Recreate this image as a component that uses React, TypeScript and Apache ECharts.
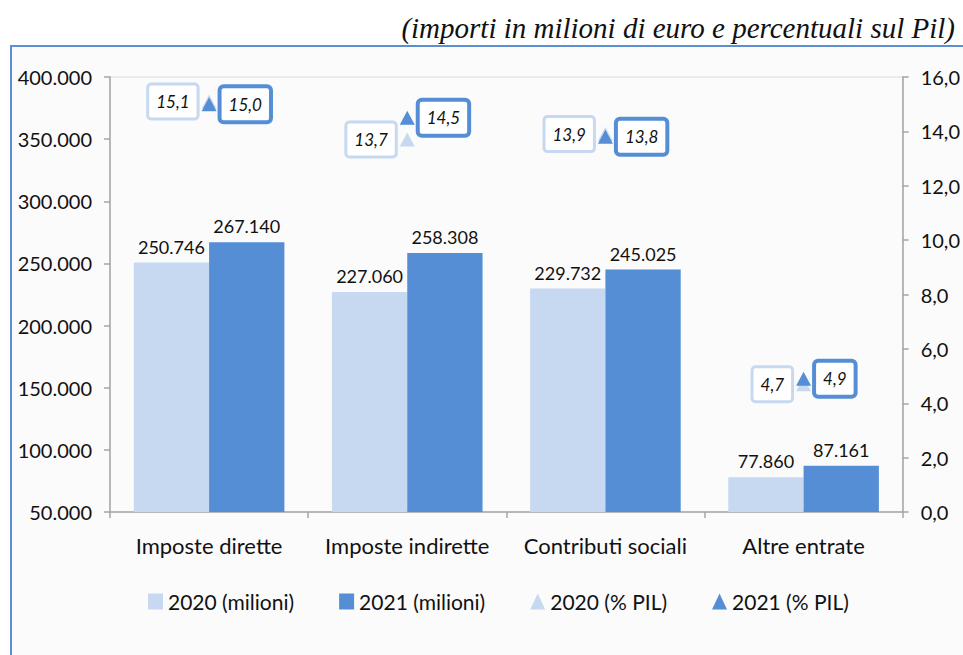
import React, { useEffect, useRef } from "react";
import * as echarts from "echarts";

const categories = ["Imposte dirette", "Imposte indirette", "Contributi sociali", "Altre entrate"];
const values2020 = [250746, 227060, 229732, 77860];
const values2021 = [267140, 258308, 245025, 87161];
const pil2020 = [15.1, 13.7, 13.9, 4.7];
const pil2021 = [15.0, 14.5, 13.8, 4.9];
const seriesNames = ["2020 (milioni)", "2021 (milioni)", "2020 (% PIL)", "2021 (% PIL)"];
const titleText = "(importi in milioni di euro e percentuali sul Pil)";

const LIGHT = "#c6d9f1";
const DARK = "#558ed5";
const FONT = "Lato";

const thousands = (v: number) => String(Math.round(v)).replace(/\B(?=(\d{3})+(?!\d))/g, ".");
const dec1 = (v: number) => v.toFixed(1).replace(".", ",");

export default function App() {
  const ref = useRef<HTMLDivElement>(null);
  useEffect(() => {
    document.body.style.margin = "0";
    const chart = echarts.init(ref.current!, null, { renderer: "svg" });
    const pctLabel = (pos: string, color: string, bw: number) => ({
      show: true,
      position: pos,
      distance: 5,
      formatter: (p: any) => dec1(p.value),
      fontFamily: FONT,
      fontStyle: "italic",
      fontSize: 17,
      color: "#111",
      backgroundColor: "#ffffff",
      borderColor: color,
      borderWidth: bw,
      borderRadius: 2,
      padding: [8, 7, 7, 7],
    });
    chart.setOption({
      animation: false,
      backgroundColor: "#ffffff",
      textStyle: { fontFamily: FONT },
      graphic: [
        {
          type: "rect",
          shape: { x: 11, y: 46, width: 1000, height: 700 },
          style: { fill: "#fbfbfb", stroke: "#5b8fd1", lineWidth: 2 },
          z: -10,
          silent: true,
        },
        {
          type: "text",
          x: 955,
          y: 28,
          style: {
            text: titleText,
            font: 'italic 29px "Liberation Serif"',
            fill: "#111",
            textAlign: "right",
            textVerticalAlign: "middle",
          },
        },
      ],
      grid: {
        left: 110,
        right: 60,
        top: 77,
        bottom: 143,
        show: true,
        borderColor: "#d9d9d9",
        borderWidth: 1,
        backgroundColor: "transparent",
      },
      legend: {
        bottom: 38,
        left: 143,
        itemGap: 45,
        itemWidth: 15,
        itemHeight: 16,
        textStyle: { fontFamily: FONT, fontSize: 21, color: "#111" },
        data: [
          { name: seriesNames[0], icon: "rect" },
          { name: seriesNames[1], icon: "rect" },
          { name: seriesNames[2], icon: "triangle" },
          { name: seriesNames[3], icon: "triangle" },
        ],
      },
      xAxis: {
        type: "category",
        data: categories,
        axisLine: { lineStyle: { color: "#a6a6a6", width: 1.5 } },
        axisTick: { show: true, interval: 0, length: 6, lineStyle: { color: "#a6a6a6", width: 1.5 } },
        axisLabel: { interval: 0, margin: 22, fontSize: 22, color: "#111", fontFamily: FONT },
      },
      yAxis: [
        {
          type: "value",
          min: 50000,
          max: 400000,
          interval: 50000,
          splitLine: { show: false },
          axisLine: { show: true, lineStyle: { color: "#a6a6a6", width: 1.5 } },
          axisTick: { show: true, length: 6, lineStyle: { color: "#a6a6a6", width: 1.5 } },
          axisLabel: { margin: 18, fontSize: 20, color: "#111", fontFamily: FONT, formatter: (v: number) => thousands(v) },
        },
        {
          type: "value",
          position: "right",
          min: 0,
          max: 16,
          interval: 2,
          splitLine: { show: false },
          axisLine: { show: true, lineStyle: { color: "#a6a6a6", width: 1.5 } },
          axisTick: { show: true, length: 6, lineStyle: { color: "#a6a6a6", width: 1.5 } },
          axisLabel: { margin: 18, fontSize: 20, color: "#111", fontFamily: FONT, formatter: (v: number) => dec1(v) },
        },
      ],
      series: [
        {
          name: seriesNames[0],
          type: "bar",
          data: values2020,
          barGap: "0%",
          barCategoryGap: "24%",
          itemStyle: { color: LIGHT },
          label: { show: true, position: "top", distance: 7, fontSize: 18, color: "#111", fontFamily: FONT, formatter: (p: any) => thousands(p.value) },
        },
        {
          name: seriesNames[1],
          type: "bar",
          data: values2021,
          itemStyle: { color: DARK },
          label: { show: true, position: "top", distance: 7, fontSize: 18, color: "#111", fontFamily: FONT, formatter: (p: any) => thousands(p.value) },
        },
        {
          name: seriesNames[2],
          type: "line",
          yAxisIndex: 1,
          data: pil2020,
          symbol: "triangle",
          symbolSize: [15, 14],
          itemStyle: { color: LIGHT },
          lineStyle: { width: 0, opacity: 0 },
          label: pctLabel("left", LIGHT, 3),
          z: 3,
        },
        {
          name: seriesNames[3],
          type: "line",
          yAxisIndex: 1,
          data: pil2021,
          symbol: "triangle",
          symbolSize: [15, 14],
          itemStyle: { color: DARK },
          lineStyle: { width: 0, opacity: 0 },
          label: pctLabel("right", DARK, 4),
          z: 4,
        },
      ],
    });
    return () => chart.dispose();
  }, []);
  return <div ref={ref} style={{ width: 963, height: 655 }} />;
}
